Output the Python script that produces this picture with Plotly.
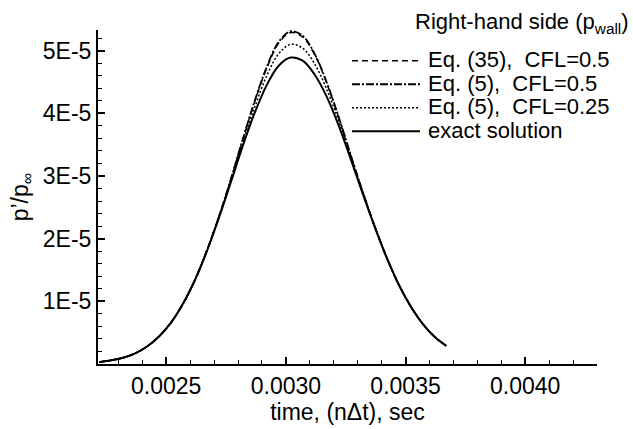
import plotly.graph_objects as go

# time samples (sec)
time = [0.00222, 0.00227, 0.00232, 0.00237, 0.00242, 0.00247, 0.00252, 0.00257,
        0.00262, 0.00267, 0.00272, 0.00277, 0.00282, 0.00287, 0.00292, 0.00297,
        0.00302, 0.00307, 0.00312, 0.00317, 0.00322, 0.00327, 0.00332, 0.00337,
        0.00342, 0.00347, 0.00352, 0.00357, 0.00362, 0.00367]

# p'/p_inf values (units of 1E-5)
exact = [0.03, 0.06, 0.10, 0.17, 0.28, 0.44, 0.66, 0.96, 1.34, 1.80, 2.33, 2.90,
         3.48, 4.01, 4.45, 4.76, 4.89, 4.84, 4.62, 4.27, 3.81, 3.28, 2.73, 2.20,
         1.71, 1.28, 0.93, 0.65, 0.44, 0.29]
eq5_cfl05 = [0.03, 0.06, 0.10, 0.17, 0.28, 0.44, 0.66, 0.96, 1.34, 1.81, 2.35, 2.95,
             3.59, 4.20, 4.74, 5.14, 5.31, 5.24, 4.95, 4.50, 3.95, 3.35, 2.76, 2.21,
             1.71, 1.28, 0.93, 0.65, 0.44, 0.29]
eq35_cfl05 = [0.03, 0.06, 0.10, 0.17, 0.28, 0.44, 0.66, 0.96, 1.34, 1.81, 2.35, 2.94,
              3.58, 4.19, 4.72, 5.12, 5.29, 5.22, 4.94, 4.49, 3.94, 3.34, 2.76, 2.21,
              1.71, 1.28, 0.93, 0.65, 0.44, 0.29]
eq5_cfl025 = [0.03, 0.06, 0.10, 0.17, 0.28, 0.44, 0.66, 0.96, 1.34, 1.81, 2.34, 2.93,
              3.53, 4.10, 4.60, 4.95, 5.10, 5.04, 4.79, 4.39, 3.88, 3.31, 2.74, 2.21,
              1.71, 1.28, 0.93, 0.65, 0.44, 0.29]

x_tickvals = [0.0025, 0.0030, 0.0035, 0.0040]
y_tickvals = [1e-5, 2e-5, 3e-5, 4e-5, 5e-5]
y_ticktext = ["1E-5", "2E-5", "3E-5", "4E-5", "5E-5"]

legend_title = "Right-hand side (p<sub>wall</sub>)"
series_names = ["Eq. (35),\u00a0\u00a0CFL=0.5", "Eq. (5),\u00a0\u00a0CFL=0.5",
                "Eq. (5),\u00a0\u00a0CFL=0.25", "exact solution"]

scale = 1e-5
FONT = "Liberation Sans, Arial, Helvetica, sans-serif"

# plot-area geometry (px) used for the hand-drawn legend key
L, R, T, B = 98, 597, 30, 378
W, H = 633, 429
def px(x):
    return (x - L) / (R - L)
def py(y):
    return (B - y) / (B - T)

styles = [("6px,4px", 1.5), ("8px,2px,2px,2px", 1.8), ("2px,2px", 1.5), ("solid", 2.0)]
data = [eq35_cfl05, eq5_cfl05, eq5_cfl025, exact]

fig = go.Figure()
for name, vals, (dash, w) in zip(series_names, data, styles):
    fig.add_trace(go.Scatter(
        x=time, y=[v * scale for v in vals], mode="lines", name=name,
        line=dict(color="black", dash=dash, width=w, shape="spline", smoothing=1.0),
        showlegend=False,
    ))

annotations = [dict(
    text=legend_title, xref="paper", yref="paper",
    x=px(631), y=py(23), xanchor="right", yanchor="middle", showarrow=False,
    font=dict(size=22, family=FONT, color="black"),
)]
shapes = []
row_y = [61, 85.5, 110, 134.5]
for i, (name, (dash, w)) in enumerate(zip(series_names, styles)):
    yy = row_y[i]
    annotations.append(dict(
        text=name, xref="paper", yref="paper", x=px(427), y=py(yy),
        xanchor="left", yanchor="middle", showarrow=False, borderpad=0,
        font=dict(size=22, family=FONT, color="black"),
    ))
    shapes.append(dict(
        type="line", xref="paper", yref="paper", x0=px(352), x1=px(420),
        y0=py(yy + 1), y1=py(yy + 1), line=dict(color="black", width=w, dash=dash),
    ))

fig.update_layout(
    width=W, height=H,
    margin=dict(l=L, r=W - R, t=T, b=H - B),
    paper_bgcolor="white", plot_bgcolor="white",
    font=dict(family=FONT, size=23, color="black"),
    showlegend=False,
    annotations=annotations, shapes=shapes,
)

fig.update_xaxes(
    range=[0.002215, 0.0043], showgrid=False, zeroline=False,
    showline=True, linecolor="black", linewidth=2,
    ticks="inside", ticklen=7, tickwidth=1.5, tickcolor="black",
    tickvals=x_tickvals, tickformat=".4f",
    minor=dict(dtick=0.0001, tick0=0.002, ticks="inside", ticklen=4, tickcolor="black", tickwidth=1),
    title=dict(text="time, (n\u0394t), sec", standoff=2, font=dict(size=23)),
    tickfont=dict(size=23),
)
fig.update_yaxes(
    range=[0, 5.33e-5], showgrid=False, zeroline=False,
    showline=True, linecolor="black", linewidth=2,
    ticks="inside", ticklen=7, tickwidth=1.5, tickcolor="black",
    tickvals=y_tickvals, ticktext=y_ticktext,
    minor=dict(dtick=2e-6, tick0=0, ticks="inside", ticklen=4, tickcolor="black", tickwidth=1),
    title=dict(text="p\u2019/p<sub>\u221e</sub>", standoff=8, font=dict(size=23)),
    tickfont=dict(size=23),
)

fig.write_html("out.html")
